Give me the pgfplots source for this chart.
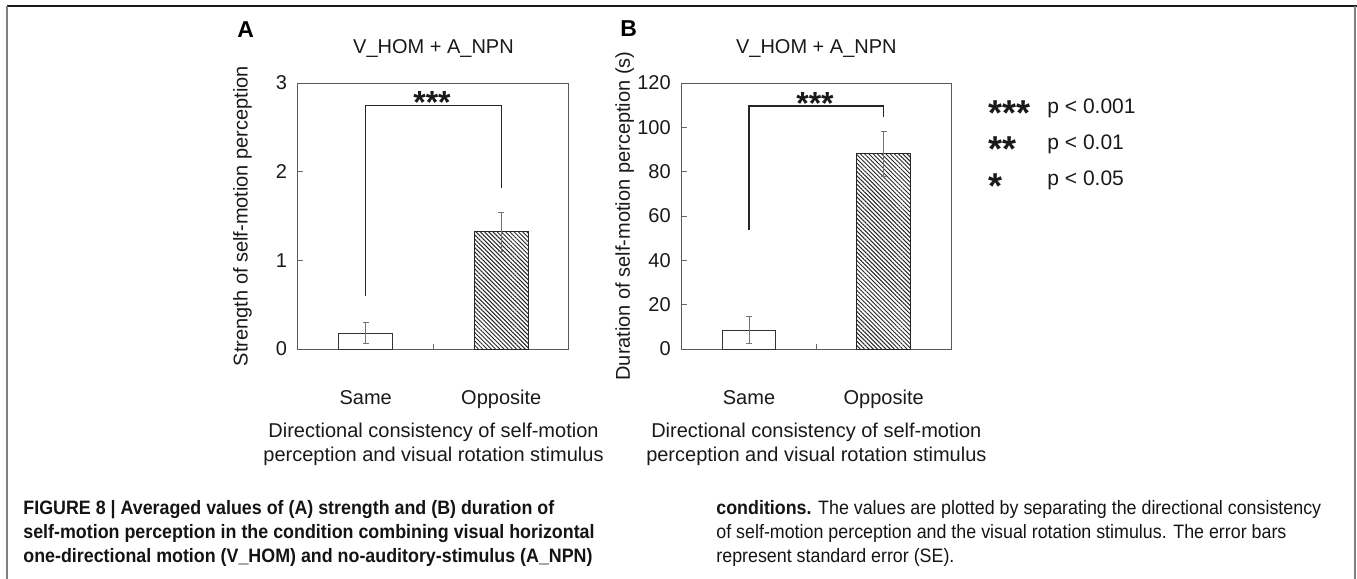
\documentclass[border=0pt]{standalone}
\usepackage{fontspec}
\setmainfont{Liberation Sans}
\newfontfamily\capfont[FakeStretch=0.92]{Liberation Sans}
\usepackage{pgfplots}
\pgfplotsset{compat=1.18}
\usetikzlibrary{patterns.meta}

\pgfplotsset{
  myaxis/.style={
    scale only axis, anchor=south west, clip=false,
    height=133pt,
    xmin=0.5, xmax=2.5,
    xtick={1.5}, xticklabels={},
    extra x ticks={1,2}, extra x tick labels={Same,Opposite},
    extra x tick style={major tick length=0pt,
      xticklabel style={anchor=base, yshift=-27.5pt}},
    tick align=inside, major tick length=2.5pt,
    tick style={black!60, line width=0.4pt},
    xtick pos=bottom, ytick pos=left,
    axis line style={black!65, line width=0.5pt},
    ticklabel style={font=\fontsize{10}{12}\selectfont, text=black!90},
    /pgf/number format/assume math mode=true,
    yticklabel style={xshift=-2pt},
    title style={at={(axis description cs:0.5,1)}, anchor=base, yshift=9pt,
      font=\fontsize{10}{12}\selectfont, text=black!90},
    xlabel style={at={(axis description cs:0.5,0)}, anchor=north, yshift=-33.7pt,
      align=center, font=\fontsize{10}{12}\selectfont, text=black!90},
    ylabel style={anchor=center, font=\fontsize{10}{12}\selectfont, text=black!90},
    xlabel={Directional consistency of self-motion\\perception and visual rotation stimulus},
    title={V\_HOM + A\_NPN},
  },
  samebar/.style={ybar, bar width=0.4, bar shift=0pt, draw=black!80, fill=white,
    line width=0.5pt,
    error bars/.cd, y dir=both, y explicit,
    error bar style={black!55, line width=0.5pt},
    error mark options={rotate=90, black!55, mark size=1.5pt, line width=0.5pt}},
  oppbar/.style={ybar, bar width=0.4, bar shift=0pt, draw=black!85,
    pattern={Lines[angle=-45,distance=1.5pt,line width=0.5pt]}, pattern color=black!85,
    line width=0.5pt,
    error bars/.cd, y dir=both, y explicit,
    error bar style={black!55, line width=0.5pt},
    error mark options={rotate=90, black!55, mark size=1.5pt, line width=0.5pt}},
  bracket/.style={black!85, line width=0.6pt, mark=none},
}

\begin{document}
\begin{tikzpicture}
\useasboundingbox (0,0) rectangle (678.5pt,-289.5pt);
% figure frame
\draw[black!90, line width=1pt] (3.5pt,-3pt) -- (678.5pt,-3pt);
\draw[black!50, line width=1pt] (3.5pt,-3pt) -- (3.5pt,-289.5pt);
\draw[black!50, line width=1pt] (677.3pt,-3pt) -- (677.3pt,-289.5pt);

% Panel A
\begin{axis}[myaxis, at={(149pt,-174.5pt)}, width=135.5pt,
  ymin=0, ymax=3, ytick={0,1,2,3},
  ylabel={Strength of self-motion perception},
  ylabel style={at={(axis description cs:-0.205,0.5)}}]
\addplot[samebar] coordinates {(1,0.18) +- (0,0.12)};
\addplot[oppbar] coordinates {(2,1.32) +- (0,0.22)};
\addplot[bracket] coordinates {(1,0.6) (1,2.75) (2,2.75) (2,1.82)};
\end{axis}

% Panel B
\begin{axis}[myaxis, at={(340.85pt,-174.5pt)}, width=134.65pt,
  ymin=0, ymax=120, ytick={0,20,40,60,80,100,120},
  ylabel={Duration of self-motion perception (s)},
  ylabel style={at={(axis description cs:-0.212,0.5)}}]
\addplot[samebar] coordinates {(1,8.5) +- (0,6.0)};
\addplot[oppbar] coordinates {(2,88.0) +- (0,10.3)};
\addplot[bracket] coordinates {(1,53.7) (1,109.6) (2,109.6) (2,104.8)};
\end{axis}

% significance stars on brackets
\node[anchor=base, inner sep=0pt, font=\fontsize{16}{16}\selectfont\bfseries, text=black!90] at (216pt,-56.6pt) {***};
\node[anchor=base, inner sep=0pt, font=\fontsize{16}{16}\selectfont\bfseries, text=black!90] at (407.5pt,-57.4pt) {***};

% panel letters
\node[anchor=base west, inner sep=0pt, font=\fontsize{11.5}{12}\selectfont\bfseries] at (118.5pt,-18.5pt) {A};
\node[anchor=base west, inner sep=0pt, font=\fontsize{11.5}{12}\selectfont\bfseries] at (310pt,-18pt) {B};

% significance key
\begin{scope}[every node/.style={inner sep=0pt, anchor=base west, text=black!90}]
\node[font=\fontsize{18}{18}\selectfont\bfseries] at (494pt,-62.8pt) {***};
\node[font=\fontsize{18}{18}\selectfont\bfseries] at (494pt,-80.8pt) {**};
\node[font=\fontsize{18}{18}\selectfont\bfseries] at (494pt,-99.0pt) {*};
\node[font=\fontsize{10.5}{12}\selectfont] at (523.5pt,-56.5pt) {p < 0.001};
\node[font=\fontsize{10.5}{12}\selectfont] at (523.5pt,-74.5pt) {p < 0.01};
\node[font=\fontsize{10.5}{12}\selectfont] at (523.5pt,-92.5pt) {p < 0.05};
\end{scope}

% caption
\begin{scope}[every node/.style={inner sep=0pt, anchor=base west, text=black!92,
    font=\capfont\fontsize{9.7}{12}\selectfont}]
\node at (11.5pt,-257pt) {\bfseries FIGURE 8 | Averaged values of (A) strength and (B) duration of};
\node at (11.5pt,-269pt) {\bfseries self-motion perception in the condition combining visual horizontal};
\node at (11.5pt,-281pt) {\bfseries one-directional motion (V\_HOM) and no-auditory-stimulus (A\_NPN)};
\node at (358pt,-257pt) {\textbf{conditions.} The values are plotted by separating the directional consistency};
\node at (358pt,-269pt) {of self-motion perception and the visual rotation stimulus. The error bars};
\node at (358pt,-281pt) {represent standard error (SE).};
\end{scope}
\end{tikzpicture}
\end{document}
